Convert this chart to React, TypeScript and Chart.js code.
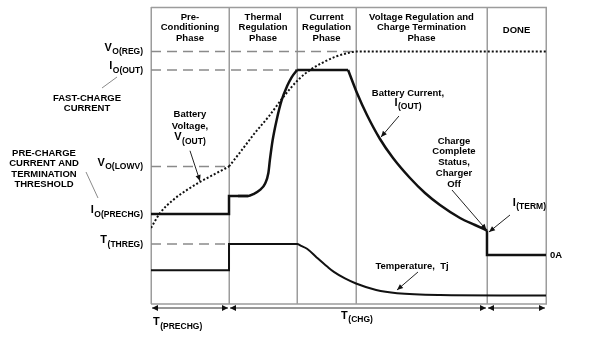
import React, { useEffect, useRef } from 'react';
import { Chart, registerables } from 'chart.js';
Chart.register(...registerables);

const FONT = "'Liberation Sans', Arial, Helvetica, sans-serif";

// x = time units (0..100), y = level units (0..100)
const phaseEdges = [0, 19.75, 37, 51.9, 85.06, 100];
const phaseNames: string[][] = [
  ['Pre-', 'Conditioning', 'Phase'],
  ['Thermal', 'Regulation', 'Phase'],
  ['Current', 'Regulation', 'Phase'],
  ['Voltage Regulation and', 'Charge Termination', 'Phase'],
  ['DONE'],
];

// level (tick) labels on the left
const levelMain = ['V', 'I', 'V', 'I', 'T'];
const levelSub = ['O(REG)', 'O(OUT)', 'O(LOWV)', 'O(PRECHG)', '(THREG)'];
const levelValues = [85.0, 78.8, 46.3, 30.3, 20.2];
const levelDashEnd = [51.9, 37, 19.75, 0, 19.75];

// Battery current I(OUT)
const currentPreT = [0, 19.75, 19.75, 24.6];
const currentPreV = [30.3, 30.3, 36.4, 36.4];
const currentRiseT = [22, 24.6, 25.9, 27.6, 28.9, 29.7, 30.1, 30.8, 31.8, 33.1, 34.4, 35.6, 37.0];
const currentRiseV = [36.4, 36.4, 37.0, 38.4, 40.6, 44.0, 48.5, 55.2, 61.9, 68.7, 73.2, 76.3, 78.8];
const currentCcT = [37.0, 49.9];
const currentCcV = [78.8, 78.8];
const currentDecayT = [49.9, 52.15, 54.68, 57.97, 61.27, 65.57, 69.37, 73.16, 78.23, 82.03, 85.06];
const currentDecayV = [78.8, 71.04, 63.64, 55.56, 49.16, 42.42, 37.37, 33.33, 28.96, 26.6, 24.75];
const currentDoneT = [85.06, 85.06, 100];
const currentDoneV = [24.75, 16.5, 16.5];

// Battery voltage V(OUT)
const voltPreT = [0, 2.28, 5.57, 9.11, 12.4, 16.2, 19.75];
const voltPreV = [25.6, 30.6, 35.0, 38.4, 41.1, 43.8, 46.3];
const voltRiseT = [19.75, 22.8, 26.3, 29.9, 33.4, 37.2, 40.3, 43.5, 46.8, 49.9, 51.9, 100];
const voltRiseV = [46.3, 51.5, 57.6, 63.3, 69.5, 75.4, 78.8, 81.3, 83.3, 84.5, 85.0, 85.0];

// Temperature Tj
const tempStepT = [0, 19.75, 19.75, 37];
const tempStepV = [11.4, 11.4, 20.2, 20.2];
const tempFallT = [34, 37, 38, 39.5, 42.0, 44.6, 46.3, 49.1, 51.9, 57.0, 62.3, 73.2, 88.4, 100];
const tempFallV = [20.2, 20.2, 19.6, 18.6, 15.6, 12.6, 10.8, 8.6, 6.9, 4.7, 3.6, 3.0, 2.9, 2.9];

const pts = (ts: number[], vs: number[]) => ts.map((t, i) => ({ x: t, y: vs[i] }));

function drawArrowHead(ctx: CanvasRenderingContext2D, x1: number, y1: number, x2: number, y2: number, len = 6, hw = 2.6) {
  const a = Math.atan2(y2 - y1, x2 - x1);
  ctx.beginPath();
  ctx.moveTo(x2, y2);
  ctx.lineTo(x2 - len * Math.cos(a) + hw * Math.sin(a), y2 - len * Math.sin(a) - hw * Math.cos(a));
  ctx.lineTo(x2 - len * Math.cos(a) - hw * Math.sin(a), y2 - len * Math.sin(a) + hw * Math.cos(a));
  ctx.closePath();
  ctx.fill();
}

function arrow(ctx: CanvasRenderingContext2D, x1: number, y1: number, x2: number, y2: number) {
  ctx.save();
  ctx.strokeStyle = '#222';
  ctx.fillStyle = '#111';
  ctx.lineWidth = 1;
  ctx.setLineDash([]);
  ctx.beginPath();
  ctx.moveTo(x1, y1);
  ctx.lineTo(x2, y2);
  ctx.stroke();
  drawArrowHead(ctx, x1, y1, x2, y2);
  ctx.restore();
}

function txt(ctx: CanvasRenderingContext2D, s: string, x: number, y: number, align: CanvasTextAlign = 'center', size = 9.5) {
  ctx.font = `bold ${size}px ${FONT}`;
  ctx.textAlign = align;
  ctx.textBaseline = 'middle';
  ctx.fillStyle = '#000';
  ctx.fillText(s, x, y);
}

function subTxt(ctx: CanvasRenderingContext2D, main: string, sub: string, x: number, y: number, align: 'left' | 'center' | 'right') {
  ctx.font = `bold 11px ${FONT}`;
  const wm = ctx.measureText(main).width;
  ctx.font = `bold 8.5px ${FONT}`;
  const ws = ctx.measureText(sub).width;
  const total = wm + ws + 0.5;
  const x0 = align === 'left' ? x : align === 'right' ? x - total : x - total / 2;
  ctx.textAlign = 'left';
  ctx.textBaseline = 'middle';
  ctx.fillStyle = '#000';
  ctx.font = `bold 11px ${FONT}`;
  ctx.fillText(main, x0, y - 4);
  ctx.font = `bold 8.5px ${FONT}`;
  ctx.fillText(sub, x0 + wm + 0.5, y + 0.5);
}

const diagramPlugin = {
  id: 'diagram',
  beforeDatasetsDraw(chart: any) {
    const ctx: CanvasRenderingContext2D = chart.ctx;
    const xs = chart.scales.x;
    const ys = chart.scales.y;
    const { left, right, top, bottom } = chart.chartArea;
    ctx.save();
    // frame
    ctx.strokeStyle = '#9c9c9c';
    ctx.lineWidth = 1.5;
    ctx.beginPath();
    phaseEdges.forEach((t) => {
      const x = Math.round(xs.getPixelForValue(t)) + 0.25;
      ctx.moveTo(x, top);
      ctx.lineTo(x, bottom);
    });
    ctx.moveTo(left, top + 0.5);
    ctx.lineTo(right + 1, top + 0.5);
    ctx.moveTo(left, bottom);
    ctx.lineTo(right + 1, bottom);
    ctx.stroke();
    // dashed reference levels
    ctx.strokeStyle = '#8a8a8a';
    ctx.lineWidth = 1.6;
    ctx.setLineDash([10, 6]);
    levelValues.forEach((v, i) => {
      if (!levelDashEnd[i]) return;
      const y = ys.getPixelForValue(v);
      ctx.beginPath();
      ctx.moveTo(left, y);
      ctx.lineTo(xs.getPixelForValue(levelDashEnd[i]), y);
      ctx.stroke();
    });
    ctx.restore();
  },
  afterDatasetsDraw(chart: any) {
    const ctx: CanvasRenderingContext2D = chart.ctx;
    const xs = chart.scales.x;
    const ys = chart.scales.y;
    const X = (t: number) => xs.getPixelForValue(t);
    const Y = (v: number) => ys.getPixelForValue(v);
    const { left, top, bottom } = chart.chartArea;
    ctx.save();
    // header phase names
    phaseNames.forEach((lines, i) => {
      const cx = (X(phaseEdges[i]) + X(phaseEdges[i + 1])) / 2;
      if (lines.length === 1) {
        txt(ctx, lines[0], cx, top + 23);
      } else {
        lines.forEach((s, j) => txt(ctx, s, cx, top + 10 + j * 10.5));
      }
    });
    // left level labels
    levelValues.forEach((v, i) => {
      subTxt(ctx, levelMain[i], levelSub[i], left - 8, Y(v), 'right');
    });
    txt(ctx, 'FAST-CHARGE', left - 64, 98);
    txt(ctx, 'CURRENT', left - 64, 108.5);
    ['PRE-CHARGE', 'CURRENT AND', 'TERMINATION', 'THRESHOLD'].forEach((s, j) =>
      txt(ctx, s, left - 107, 153 + j * 10.5)
    );
    ctx.strokeStyle = '#8a8a8a';
    ctx.lineWidth = 1;
    ctx.beginPath();
    ctx.moveTo(left - 49, 88);
    ctx.lineTo(left - 34, 77);
    ctx.moveTo(left - 65, 172);
    ctx.lineTo(left - 53, 198);
    ctx.stroke();

    // annotations inside plot
    txt(ctx, 'Battery', X(9.87), Y(63.9));
    txt(ctx, 'Voltage,', X(9.87), Y(59.8));
    subTxt(ctx, 'V', '(OUT)', X(9.87), Y(54.8), 'center');
    arrow(ctx, X(9.87), Y(51.6), X(12.4), Y(41.4));

    txt(ctx, 'Battery Current,', X(65.06), Y(71.04));
    subTxt(ctx, 'I', '(OUT)', X(65.06), Y(66.5), 'center');
    arrow(ctx, X(62.78), Y(63.3), X(58.23), Y(56.2));

    ['Charge', 'Complete', 'Status,', 'Charger', 'Off'].forEach((s, j) =>
      txt(ctx, s, X(76.71), Y(54.88) + j * 10.75)
    );
    arrow(ctx, X(76.2), Y(38.38), X(84.94), Y(24.92));

    subTxt(ctx, 'I', '(TERM)', X(91.57), Y(32.83), 'left');
    arrow(ctx, X(90.89), Y(29.97), X(85.57), Y(24.24));

    txt(ctx, '0A', X(101.01), Y(16.5), 'left');

    txt(ctx, 'Temperature,  Tj', X(66.08), Y(12.79));
    arrow(ctx, X(67.59), Y(10.77), X(62.28), Y(4.71));

    // bottom duration arrows
    const ay = bottom + 4;
    ctx.strokeStyle = '#333';
    ctx.fillStyle = '#111';
    ctx.lineWidth = 1;
    const spans = [[phaseEdges[0], phaseEdges[1]], [phaseEdges[1], phaseEdges[4]], [phaseEdges[4], phaseEdges[5]]];
    spans.forEach(([a, b]) => {
      const x1 = X(a) + 1;
      const x2 = X(b) - 1;
      ctx.beginPath();
      ctx.moveTo(x1, ay);
      ctx.lineTo(x2, ay);
      ctx.stroke();
      drawArrowHead(ctx, x2, ay, x1, ay, 6, 3);
      drawArrowHead(ctx, x1, ay, x2, ay, 6, 3);
    });
    subTxt(ctx, 'T', '(PRECHG)', X(0.5), bottom + 22, 'left');
    subTxt(ctx, 'T', '(CHG)', X(52.15), bottom + 15.5, 'center');
    ctx.restore();
  },
};

export default function App() {
  const ref = useRef<HTMLCanvasElement>(null);
  useEffect(() => {
    const canvas = ref.current;
    if (!canvas) return;
    const black = '#111';
    const chart = new Chart(canvas, {
      type: 'scatter',
      data: {
        datasets: [
          { data: pts(tempStepT, tempStepV), borderColor: black, borderWidth: 2, showLine: true, pointRadius: 0, tension: 0 },
          { data: pts(tempFallT, tempFallV), borderColor: black, borderWidth: 2, showLine: true, pointRadius: 0, cubicInterpolationMode: 'monotone' },
          { data: pts(voltPreT, voltPreV), borderColor: black, borderWidth: 2, borderDash: [2, 2], showLine: true, pointRadius: 0, cubicInterpolationMode: 'monotone' },
          { data: pts(voltRiseT, voltRiseV), borderColor: black, borderWidth: 2, borderDash: [2, 2], showLine: true, pointRadius: 0, cubicInterpolationMode: 'monotone' },
          { data: pts(currentPreT, currentPreV), borderColor: black, borderWidth: 2.5, showLine: true, pointRadius: 0, tension: 0 },
          { data: pts(currentRiseT, currentRiseV), borderColor: black, borderWidth: 2.5, showLine: true, pointRadius: 0, cubicInterpolationMode: 'monotone' },
          { data: pts(currentCcT, currentCcV), borderColor: black, borderWidth: 2.5, showLine: true, pointRadius: 0, tension: 0 },
          { data: pts(currentDecayT, currentDecayV), borderColor: black, borderWidth: 2.5, showLine: true, pointRadius: 0, cubicInterpolationMode: 'monotone' },
          { data: pts(currentDoneT, currentDoneV), borderColor: black, borderWidth: 2.5, showLine: true, pointRadius: 0, tension: 0 },
        ] as any,
      },
      options: {
        responsive: false,
        maintainAspectRatio: false,
        devicePixelRatio: 1,
        animation: false,
        events: [],
        layout: { padding: { left: 151, right: 55, top: 7, bottom: 49 } },
        scales: {
          x: { type: 'linear', min: 0, max: 100, display: false },
          y: { type: 'linear', min: 0, max: 100, display: false },
        },
        plugins: { legend: { display: false }, tooltip: { enabled: false }, title: { display: false } },
      },
      plugins: [diagramPlugin],
    });
    return () => chart.destroy();
  }, []);
  return (
    <div style={{ position: 'fixed', left: 0, top: 0, width: 601, height: 353, background: '#fff' }}>
      <canvas ref={ref} width={601} height={353} style={{ display: 'block', width: 601, height: 353 }} />
    </div>
  );
}
